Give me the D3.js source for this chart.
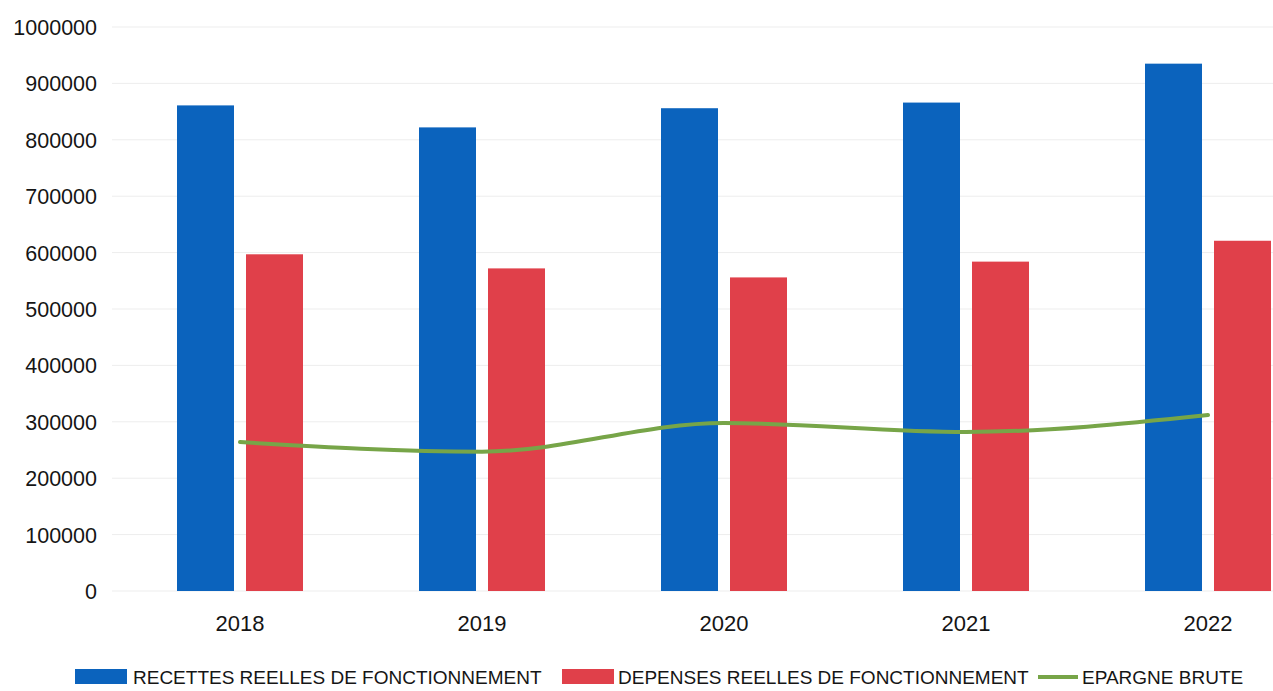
<!DOCTYPE html>
<html>
<head>
<meta charset="utf-8">
<script src="https://cdn.jsdelivr.net/npm/d3@7"></script>
<style>
  body { margin: 0; background: #fff; }
  text { font-family: "Liberation Sans", Arial, sans-serif; fill: #151515; }
</style>
</head>
<body>
<div id="chart"></div>
<script>
const years = ["2018", "2019", "2020", "2021", "2022"];
const recettes = [861000, 822000, 856000, 866000, 935000];
const depenses = [597000, 572000, 556000, 584000, 621000];
const epargne = [264000, 247000, 298000, 282000, 312000];
const yTicks = [0, 100000, 200000, 300000, 400000, 500000, 600000, 700000, 800000, 900000, 1000000];

const W = 1273, H = 691;

const svg = d3.select("#chart").append("svg")
    .attr("width", W).attr("height", H);

const x = d3.scaleBand().domain(years).range([119, 1329]);
const y = d3.scaleLinear().domain([0, 1000000]).range([591, 27]);

// grid
svg.append("g")
    .selectAll("line").data(yTicks).enter().append("line")
    .attr("x1", 112).attr("x2", W)
    .attr("y1", d => y(d)).attr("y2", d => y(d))
    .attr("stroke", "#ededed").attr("stroke-width", 1);

// y axis labels
svg.append("g")
    .selectAll("text").data(yTicks).enter().append("text")
    .attr("x", 97).attr("y", d => y(d) + 8)
    .attr("text-anchor", "end")
    .style("font-size", "21.5px")
    .text(d => d);

const barW = 57, gap = 12;

svg.append("g")
    .selectAll("rect").data(recettes).enter().append("rect")
    .attr("x", (d, i) => x(years[i]) + x.bandwidth() / 2 - gap / 2 - barW)
    .attr("y", d => y(d))
    .attr("width", barW)
    .attr("height", d => y(0) - y(d))
    .attr("fill", "#0b63bd");

svg.append("g")
    .selectAll("rect").data(depenses).enter().append("rect")
    .attr("x", (d, i) => x(years[i]) + x.bandwidth() / 2 + gap / 2)
    .attr("y", d => y(d))
    .attr("width", barW)
    .attr("height", d => y(0) - y(d))
    .attr("fill", "#e0404a");

const line = d3.line()
    .x((d, i) => x(years[i]) + x.bandwidth() / 2)
    .y(d => y(d))
    .curve(d3.curveMonotoneX);

svg.append("path")
    .datum(epargne)
    .attr("d", line)
    .attr("fill", "none")
    .attr("stroke", "#77a548")
    .attr("stroke-width", 4)
    .attr("stroke-linecap", "round");

// x labels
svg.append("g")
    .selectAll("text").data(years).enter().append("text")
    .attr("x", d => x(d) + x.bandwidth() / 2)
    .attr("y", 631)
    .attr("text-anchor", "middle")
    .style("font-size", "22px")
    .text(d => d);

// legend
const legend = [
    {name: "RECETTES REELLES DE FONCTIONNEMENT", color: "#0b63bd", type: "rect", sx: 75, tx: 133},
    {name: "DEPENSES REELLES DE FONCTIONNEMENT", color: "#e0404a", type: "rect", sx: 562, tx: 618},
    {name: "EPARGNE BRUTE", color: "#77a548", type: "line", sx: 1038, tx: 1082}
];
const lg = svg.append("g");
legend.forEach(d => {
    if (d.type === "rect") {
        lg.append("rect").attr("x", d.sx).attr("y", 669).attr("width", 52).attr("height", 15).attr("fill", d.color);
    } else {
        lg.append("line").attr("x1", d.sx).attr("x2", d.sx + 40).attr("y1", 677).attr("y2", 677)
            .attr("stroke", d.color).attr("stroke-width", 4);
    }
    lg.append("text").attr("x", d.tx).attr("y", 684)
        .style("font-size", "19px")
        .text(d.name);
});
</script>
</body>
</html>
